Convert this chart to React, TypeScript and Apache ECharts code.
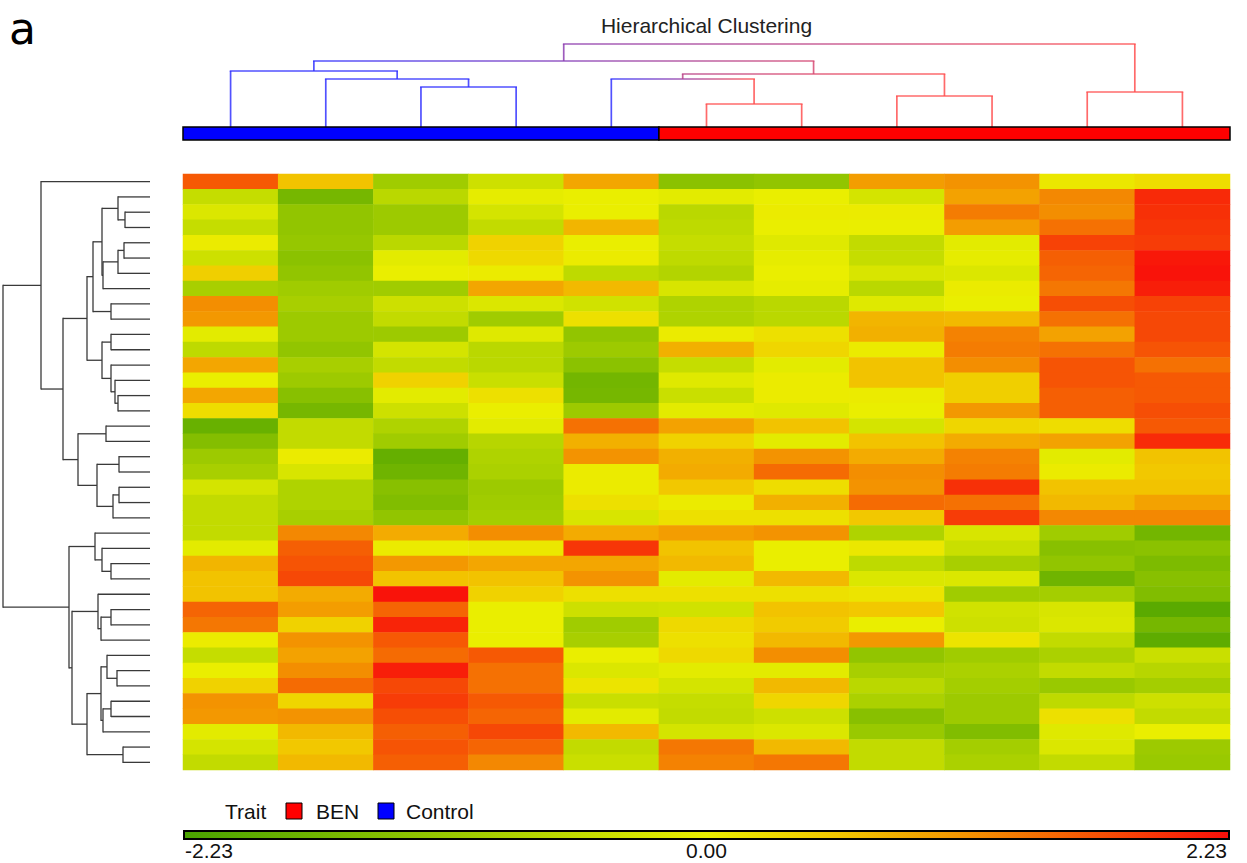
import React, { useEffect, useRef } from "react";
import * as echarts from "echarts";

// ---------------- data ----------------
const sampleIds = ["C1", "C2", "C3", "C4", "C5", "B1", "B2", "B3", "B4", "B5", "B6"];
const sampleTrait = ["Control", "Control", "Control", "Control", "Control", "BEN", "BEN", "BEN", "BEN", "BEN", "BEN"];
const traitNames = ["BEN", "Control"];
const traitColors = ["#ff0000", "#0000ff"];

// column clustering: [childA, childB, height]; leaves 0..10, internal nodes 11..
const sampleMerges: [number, number, number][] = [
  [2, 3, 40],
  [1, 11, 48],
  [0, 12, 56],
  [5, 6, 23],
  [4, 14, 48],
  [7, 8, 31],
  [15, 16, 53],
  [13, 17, 66],
  [9, 10, 35],
  [18, 19, 83],
];

// row clustering: leaves 0..38, internal nodes 39..
const geneMerges: [number, number, number][] = [
  [2, 3, 25], [1, 39, 32], [4, 5, 26], [41, 6, 32], [42, 7, 47], [40, 43, 48],
  [8, 9, 39], [44, 45, 57], [10, 11, 39], [14, 15, 32], [13, 48, 35], [12, 49, 39],
  [47, 50, 48], [46, 51, 63], [16, 17, 44], [18, 19, 31], [20, 21, 31], [55, 22, 37],
  [54, 56, 53], [53, 57, 72], [52, 58, 87], [0, 59, 109], [25, 26, 39], [24, 61, 48],
  [23, 62, 55], [28, 29, 39], [64, 30, 49], [27, 65, 52], [32, 33, 33], [31, 67, 43],
  [34, 35, 39], [69, 36, 47], [68, 70, 49], [37, 38, 27], [71, 72, 63], [66, 73, 78],
  [63, 74, 81], [60, 75, 147],
];

// expression values per sample column (39 rows, top to bottom)
const c1 = [1.6, -0.5, -0.2, -0.5, 0.05, -0.4, 0.45, -0.9, 1.15, 1.05, -0.1, -0.6, 0.9, 0, 0.9, 0.25, -1.8, -1.4, -1.05, -0.9, -0.3, -0.55, -0.55, -0.55, -0.1, 0.75, 0.6, 0.6, 1.5, 1.35, 0.05, -0.5, 0, 0.4, 1.1, 1.05, -0.1, -0.3, -0.55];
const c2 = [0.6, -1.6, -1.2, -1.2, -1.15, -1.3, -1.2, -1.0, -0.9, -1.05, -1.05, -1.2, -0.9, -1.05, -1.35, -1.6, -0.55, -0.55, 0.05, -0.25, -0.8, -0.8, -0.9, 1.2, 1.55, 1.65, 1.75, 0.85, 1.0, 0.4, 1.1, 0.95, 1.15, 1.45, 0.35, 1.1, 0.7, 0.55, 0.7];
const c3 = [-1.0, -0.65, -1.05, -1.05, -0.65, -0.1, 0, -1.0, -0.4, -0.55, -1.05, -0.3, -0.55, 0.4, -0.1, -0.4, -0.8, -1.0, -1.85, -1.7, -1.35, -1.45, -1.2, 0.85, 0.05, 1.05, 0.6, 2.2, 1.5, 2.05, 1.6, 1.45, 2.1, 1.75, 1.85, 1.7, 1.55, 1.65, 1.55];
const c4 = [-0.4, -0.05, -0.3, -0.55, 0.4, 0.3, 0.05, 0.9, -0.2, -1.0, -0.15, -0.65, -0.65, -0.45, 0.2, 0, -0.1, -0.7, -0.8, -0.85, -1.05, -1.0, -0.95, 1.15, 0.1, 0.9, 0.6, 0.4, 0, 0, 0, 1.6, 1.4, 1.4, 1.6, 1.5, 1.75, 1.5, 1.2];
const c5 = [0.9, 0, 0, 0.75, 0, 0.05, -0.6, 0.7, -0.35, 0.2, -1.2, -1.05, -1.3, -1.65, -1.6, -1.05, 1.4, 0.8, 1.1, 0.05, 0.05, 0.2, -0.25, 0.85, 1.9, 0.9, 1.1, 0.2, -0.4, -1.0, -0.9, 0, -0.2, 0.15, -0.45, -0.1, 0.7, -0.55, -0.45];
const c6 = [-1.3, -0.1, -0.65, -0.6, -0.5, -0.6, -0.75, -0.25, -0.8, -0.8, 0.05, 0.8, -0.5, -0.15, -0.45, -0.1, 0.95, 0.4, 0.8, 0.85, 0.55, 0.05, 0.2, 1.0, 0.6, 0.7, -0.1, 0.2, -0.35, 0.3, 0.2, 0.3, -0.1, -0.3, -0.5, -0.55, -0.3, 1.35, 1.25];
const c7 = [-1.2, 0, 0.05, 0, -0.15, -0.05, 0, -0.05, -0.65, -0.65, 0.2, 0.35, -0.1, 0.05, 0.05, -0.15, 0.6, -0.1, 1.1, 1.45, 0.25, 0.8, 0.2, 1.1, 0, 0, 0.7, 0.2, 0.6, 0.5, 0.7, 1.15, -0.1, 0.7, 0.35, -0.4, -0.2, 0.7, 1.35];
const c8 = [1.0, -0.3, 0.05, 0, -0.55, -0.5, -0.25, -0.65, -0.15, 0.75, 0.8, 0.05, 0.6, 0.6, 0.05, 0, -0.3, 0.6, 0.85, 1.15, 1.1, 1.45, 0.55, -0.8, 0.1, -0.6, -0.2, 0.15, 0.55, 0, 1.05, -1.2, -0.9, -0.65, -0.85, -1.35, -1.1, -0.55, -0.55];
const c9 = [1.1, 0.95, 1.3, 1.0, -0.1, -0.05, -0.2, 0.05, 0, 0.7, 1.25, 1.3, 1.15, 0.45, 0.45, 1.05, 0.35, 0.85, 1.25, 1.3, 1.95, 1.4, 1.85, -0.25, -0.45, -0.9, -0.2, -1.0, -0.35, -0.4, 0.15, -1.0, -0.85, -0.95, -1.05, -1.05, -1.45, -0.95, -0.85];
const c10 = [0.1, 1.2, 1.15, 1.4, 1.8, 1.55, 1.5, 1.35, 1.7, 1.4, 0.95, 1.4, 1.65, 1.65, 1.55, 1.55, 0.25, 0.95, -0.1, 0.05, 0.6, 0.7, 1.2, -1.0, -1.35, -1.2, -1.7, -0.95, -0.25, -0.2, -0.55, -0.85, -0.55, -1.1, -0.6, 0.2, -0.15, -0.2, -0.55];
const c11 = [0.25, 2.0, 1.95, 1.9, 1.85, 2.15, 2.2, 2.1, 1.8, 1.75, 1.75, 1.65, 1.4, 1.6, 1.6, 1.7, 1.6, 2.0, 0.6, 0.55, 0.6, 0.95, 1.2, -1.65, -1.3, -1.5, -1.35, -1.45, -2.0, -1.6, -1.95, -0.45, -0.7, -0.95, -0.4, -0.55, 0, -1.05, -1.1];
const sampleColumns = [c1, c2, c3, c4, c5, c6, c7, c8, c9, c10, c11];

const scaleMin = -2.23;
const scaleMax = 2.23;
const scaleTicks = [-2.23, 0, 2.23];
const heatColors = ["#4aa200", "#71b500", "#98c800", "#c1db00", "#eaee00", "#f2c700", "#f39201", "#f65105", "#f90f0a"];

// ---------------- helpers ----------------
type Merge = [number, number, number];
function layoutTree(leafWeights: number[], merges: Merge[]) {
  const n = leafWeights.length;
  const pos: number[] = [];
  const ht: number[] = [];
  const w: number[] = [];
  const cnt: number[] = [];
  leafWeights.forEach((wt, i) => {
    pos[i] = i;
    ht[i] = 0;
    w[i] = wt;
    cnt[i] = 1;
  });
  return merges.map(([a, b, h], k) => {
    const id = n + k;
    pos[id] = (pos[a] + pos[b]) / 2;
    ht[id] = h;
    cnt[id] = cnt[a] + cnt[b];
    w[id] = (w[a] * cnt[a] + w[b] * cnt[b]) / cnt[id];
    return [pos[a], ht[a], pos[b], ht[b], h, w[a], w[b]];
  });
}

const BLUE = [50, 50, 255];
const RED = [255, 80, 80];
function mix(f: number) {
  const c = BLUE.map((b, i) => Math.round(b + (RED[i] - b) * f));
  return `rgb(${c[0]},${c[1]},${c[2]})`;
}

const FONT = "'Liberation Sans', Arial, sans-serif";

export default function App() {
  const ref = useRef<HTMLDivElement>(null);

  useEffect(() => {
    if (!ref.current) return;
    const chart = echarts.init(ref.current, undefined, { renderer: "svg" });

    const geneIds = c1.map((_, i) => "gene " + (i + 1));
    const heatData: number[][] = [];
    sampleColumns.forEach((col, ci) => col.forEach((v, ri) => heatData.push([ci, ri, v])));

    const topItems = layoutTree(sampleTrait.map((t) => (t === "BEN" ? 1 : 0)), sampleMerges);
    const leftItems = layoutTree(c1.map(() => 0), geneMerges);

    // runs of identical trait along the columns
    const runs: number[][] = [];
    sampleTrait.forEach((t, i) => {
      const ti = traitNames.indexOf(t);
      const last = runs[runs.length - 1];
      if (last && last[2] === ti) last[1] = i;
      else runs.push([i, i, ti]);
    });

    const hmLeft = 183, hmWidth = 1047;
    const barTop = 831, barH = 8;
    const scaleX = (v: number) => hmLeft + ((v - scaleMin) / (scaleMax - scaleMin)) * hmWidth;

    const option: any = {
      animation: false,
      backgroundColor: "#ffffff",
      grid: [
        { left: hmLeft, top: 174, width: hmWidth, height: 596 },
        { left: hmLeft, top: 30, width: hmWidth, height: 97 },
        { left: 0, top: 174, width: 150, height: 596 },
        { left: hmLeft, top: 127, width: hmWidth, height: 13 },
      ],
      xAxis: [
        { gridIndex: 0, type: "category", data: sampleIds, show: false },
        { gridIndex: 1, type: "value", min: -0.5, max: 10.5, show: false },
        { gridIndex: 2, type: "value", min: 0, max: 150, inverse: true, show: false },
        { gridIndex: 3, type: "value", min: -0.5, max: 10.5, show: false },
      ],
      yAxis: [
        { gridIndex: 0, type: "category", data: geneIds, inverse: true, show: false },
        { gridIndex: 1, type: "value", min: 0, max: 97, show: false },
        { gridIndex: 2, type: "value", min: -0.5, max: 38.5, inverse: true, show: false },
        { gridIndex: 3, type: "value", min: 0, max: 1, show: false },
      ],
      visualMap: {
        type: "continuous",
        min: scaleMin,
        max: scaleMax,
        seriesIndex: 0,
        show: false,
        inRange: { color: heatColors },
      },
      series: [
        {
          type: "heatmap",
          xAxisIndex: 0,
          yAxisIndex: 0,
          data: heatData,
          itemStyle: { borderWidth: 0 },
          emphasis: { disabled: true },
        },
        {
          type: "custom",
          xAxisIndex: 1,
          yAxisIndex: 1,
          dimensions: ["pa", "ha", "pb", "hb", "h", "fa", "fb"],
          encode: { x: 0, y: 1 },
          data: topItems,
          renderItem: (_p: any, api: any) => {
            const pa = api.value(0), ha = api.value(1), pb = api.value(2), hb = api.value(3);
            const h = api.value(4), fa = api.value(5), fb = api.value(6);
            const a0 = api.coord([pa, ha]), a1 = api.coord([pa, h]);
            const b0 = api.coord([pb, hb]), b1 = api.coord([pb, h]);
            const lw = 1.7;
            return {
              type: "group",
              children: [
                { type: "line", shape: { x1: a0[0], y1: a0[1], x2: a1[0], y2: a1[1] }, style: { stroke: mix(fa), lineWidth: lw, opacity: 0.85 } },
                { type: "line", shape: { x1: b0[0], y1: b0[1], x2: b1[0], y2: b1[1] }, style: { stroke: mix(fb), lineWidth: lw, opacity: 0.85 } },
                {
                  type: "line",
                  shape: { x1: a1[0] - lw / 2, y1: a1[1], x2: b1[0] + lw / 2, y2: b1[1] },
                  style: {
                    stroke: {
                      type: "linear",
                      x: a1[0], y: 0, x2: b1[0], y2: 0,
                      global: true,
                      colorStops: [
                        { offset: 0, color: mix(fa) },
                        { offset: 1, color: mix(fb) },
                      ],
                    },
                    lineWidth: lw,
                    opacity: 0.85,
                  },
                },
              ],
            };
          },
        },
        {
          type: "custom",
          xAxisIndex: 2,
          yAxisIndex: 2,
          dimensions: ["pa", "ha", "pb", "hb", "h", "fa", "fb"],
          encode: { x: 1, y: 0 },
          data: leftItems,
          renderItem: (_p: any, api: any) => {
            const pa = api.value(0), ha = api.value(1), pb = api.value(2), hb = api.value(3);
            const h = api.value(4);
            const a0 = api.coord([ha, pa]), a1 = api.coord([h, pa]);
            const b0 = api.coord([hb, pb]), b1 = api.coord([h, pb]);
            const st = { stroke: "#3a3a3a", lineWidth: 1.3 };
            return {
              type: "group",
              children: [
                { type: "line", shape: { x1: a0[0], y1: a0[1], x2: a1[0], y2: a1[1] }, style: st },
                { type: "line", shape: { x1: b0[0], y1: b0[1], x2: b1[0], y2: b1[1] }, style: st },
                { type: "line", shape: { x1: a1[0], y1: a1[1] - 0.6, x2: b1[0], y2: b1[1] + 0.6 }, style: st },
              ],
            };
          },
        },
        {
          type: "custom",
          xAxisIndex: 3,
          yAxisIndex: 3,
          dimensions: ["start", "end", "trait"],
          encode: { x: [0, 1] },
          data: runs,
          renderItem: (_p: any, api: any) => {
            const s = api.value(0), e = api.value(1), t = api.value(2);
            const p0 = api.coord([s - 0.5, 1]);
            const p1 = api.coord([e + 0.5, 0]);
            return {
              type: "rect",
              shape: { x: p0[0], y: p0[1], width: p1[0] - p0[0], height: p1[1] - p0[1] },
              style: { fill: traitColors[t], stroke: "#000", lineWidth: 1.5 },
            };
          },
        },
      ],
      graphic: [
        {
          type: "text",
          left: 9,
          top: 6,
          style: { text: "a", font: "44px 'DejaVu Sans', sans-serif", fill: "#000" },
        },
        {
          type: "text",
          x: hmLeft + hmWidth / 2,
          y: 25,
          style: { text: "Hierarchical Clustering", font: `21px ${FONT}`, fill: "#222", align: "center", verticalAlign: "middle" },
        },
        // legend
        { type: "text", x: 225, y: 811, style: { text: "Trait", font: `21px ${FONT}`, fill: "#111", verticalAlign: "middle" } },
        { type: "rect", shape: { x: 286, y: 803, width: 16, height: 16 }, style: { fill: traitColors[0], stroke: "#000", lineWidth: 1 } },
        { type: "text", x: 316, y: 811, style: { text: traitNames[0], font: `21px ${FONT}`, fill: "#111", verticalAlign: "middle" } },
        { type: "rect", shape: { x: 378, y: 803, width: 16, height: 16 }, style: { fill: traitColors[1], stroke: "#000", lineWidth: 1 } },
        { type: "text", x: 406, y: 811, style: { text: traitNames[1], font: `21px ${FONT}`, fill: "#111", verticalAlign: "middle" } },
        // color scale bar
        {
          type: "rect",
          shape: { x: hmLeft + 1, y: barTop, width: hmWidth - 2, height: barH },
          style: {
            fill: new echarts.graphic.LinearGradient(
              0, 0, 1, 0,
              heatColors.map((c, i) => ({ offset: i / (heatColors.length - 1), color: c }))
            ),
            stroke: "#000",
            lineWidth: 2,
          },
        },
        ...scaleTicks.map((v, i) => ({
          type: "text",
          x: scaleX(v) + (i === 0 ? 2 : i === scaleTicks.length - 1 ? -3 : 0),
          y: 850,
          style: {
            text: v.toFixed(2),
            font: `21px ${FONT}`,
            fill: "#111",
            align: i === 0 ? "left" : i === scaleTicks.length - 1 ? "right" : "center",
            verticalAlign: "middle",
          },
        })),
      ],
    };

    chart.setOption(option);
    return () => chart.dispose();
  }, []);

  return (
    <div
      ref={ref}
      style={{ position: "fixed", left: 0, top: 0, width: 1247, height: 863, background: "#fff" }}
    />
  );
}
